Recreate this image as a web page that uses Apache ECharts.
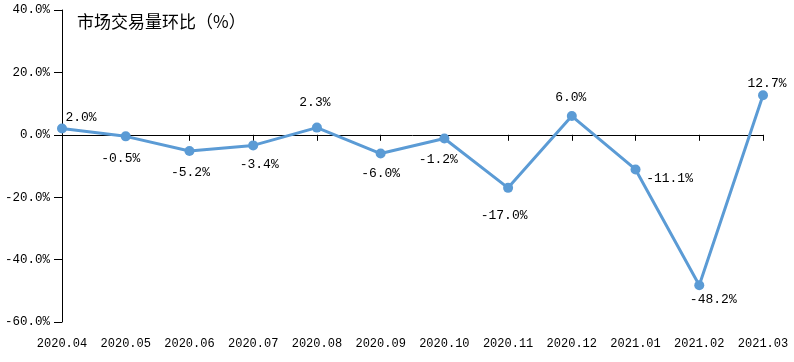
<!DOCTYPE html>
<html><head><meta charset="utf-8">
<script src="https://cdn.jsdelivr.net/npm/echarts@6/dist/echarts.min.js"></script>
<style>html,body{margin:0;padding:0;background:#fff}#c{width:794px;height:362px}</style>
</head><body><div id="c"></div>
<script>
var categories = ['2020.04','2020.05','2020.06','2020.07','2020.08','2020.09','2020.10','2020.11','2020.12','2021.01','2021.02','2021.03'];
var values = [2.0, -0.5, -5.2, -3.4, 2.3, -6.0, -1.2, -17.0, 6.0, -11.1, -48.2, 12.7];
var yTicks = [-60, -40, -20, 0, 20, 40];
var titleText = '市场交易量环比（%）';

var monoFont = '"Liberation Mono", "DejaVu Sans Mono", monospace';
// label offsets (label centre relative to point centre), style only
var labelOffsets = [[19, -11], [-5, 22], [1, 22], [6, 19], [-2, -25], [0, 20], [-6, 21], [-4, 28], [-1, -19], [34, 9], [14, 14], [4, -12]];
var seriesData = values.map(function (v, i) {
  return {value: v, label: {position: 'inside', offset: labelOffsets[i]}};
});

var chart = echarts.init(document.getElementById('c'));
chart.setOption({
  animation: false,
  grid: {left: 62, right: 31, top: 10, bottom: 40},
  title: {text: titleText, left: 72, top: 8, textStyle: {fontFamily: '"Noto Sans CJK SC"', fontSize: 17, fontWeight: 'normal', color: '#000'}},
  xAxis: [{
    type: 'category', data: categories, boundaryGap: false,
    axisLine: {onZero: true, lineStyle: {color: '#000', width: 1}},
    axisTick: {show: true, length: 6, lineStyle: {color: '#000'}},
    axisLabel: {show: false}
  }, {
    type: 'category', data: categories, boundaryGap: false, position: 'bottom',
    axisLine: {show: false, onZero: false}, axisTick: {show: false},
    axisLabel: {color: '#000', fontFamily: monoFont, fontSize: 12, margin: 16, interval: 0}
  }],
  yAxis: {
    type: 'value', min: yTicks[0], max: yTicks[yTicks.length - 1], interval: 20,
    axisLine: {show: true, lineStyle: {color: '#000'}},
    axisTick: {show: true, length: 8, lineStyle: {color: '#000'}},
    splitLine: {show: false},
    axisLabel: {color: '#000', fontFamily: monoFont, fontSize: 12.5, margin: 12,
      formatter: function (v) { return v.toFixed(1) + '%'; }}
  },
  series: [{
    type: 'line', data: seriesData, xAxisIndex: 0,
    symbol: 'circle', symbolSize: 10,
    lineStyle: {color: '#5B9BD5', width: 3},
    itemStyle: {color: '#5B9BD5'},
    label: {show: true, color: '#000', fontFamily: monoFont, fontSize: 13,
      formatter: function (p) { return p.value.toFixed(1) + '%'; }}
  }]
});
</script></body></html>
